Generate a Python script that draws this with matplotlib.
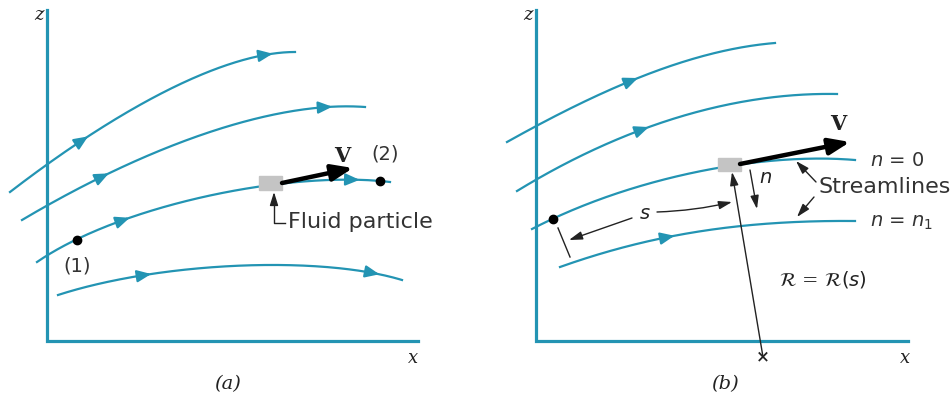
import numpy as np
import matplotlib.pyplot as plt
from matplotlib.patches import Rectangle

# Colours
TEAL = "#2394b3"
GREY = "#c4c4c4"

# Streamlines as cubic Bezier control points (image pixels, y down)
streams_a = [
    [(10, 192), (110, 115), (220, 52), (295, 52)],
    [(22, 220), (140, 150), (270, 100), (365, 107)],
    [(37, 262), (120, 205), (290, 170), (390, 182)],
    [(58, 295), (160, 262), (320, 255), (402, 280)],
]
arrows_a = [[88, 272], [108, 333], [130, 360], [152, 380]]

streams_b = [
    [(507, 142), (600, 90), (690, 50), (775, 43)],
    [(517, 191), (620, 128), (730, 92), (837, 94)],
    [(532, 229), (630, 178), (760, 152), (855, 160)],
    [(560, 267), (650, 235), (740, 220), (855, 221)],
]
arrows_b = [[638], [648], [], [675]]

# Axes corners of each panel: origin, top of z, end of x
panels = [((47, 341), 10, 418), ((536, 341), 10, 908)]

# Particles and points
particles = [(259, 176, 23, 14), (718, 158, 23, 13)]
dots = [(77, 240), (380, 181), (553, 219)]
velocity = [((282, 183), (353, 168)), ((740, 164), (850, 142))]


def bezier(ctrl, n=200):
    p = np.array(ctrl, dtype=float)
    t = np.linspace(0, 1, n)[:, None]
    return ((1 - t) ** 3 * p[0] + 3 * (1 - t) ** 2 * t * p[1]
            + 3 * (1 - t) * t ** 2 * p[2] + t ** 3 * p[3])


fig = plt.figure(figsize=(9.51, 3.94), dpi=100)
ax = fig.add_axes([0, 0, 1, 1])
ax.set_xlim(0, 951)
ax.set_ylim(394, 0)
ax.axis("off")

# z and x axes
for (x0, y0), ztop, xend in panels:
    ax.plot([x0, x0, xend], [ztop, y0, y0], color=TEAL, lw=2.3,
            solid_joinstyle="miter", zorder=2)

# Streamlines with direction arrows
for streams, arrows in [(streams_a, arrows_a), (streams_b, arrows_b)]:
    for ctrl, ax_list in zip(streams, arrows):
        pts = bezier(ctrl)
        ax.plot(pts[:, 0], pts[:, 1], color=TEAL, lw=1.6, zorder=3)
        for xa in ax_list:
            i = np.argmin(np.abs(pts[:, 0] - xa))
            ax.annotate("", xy=pts[i], xytext=pts[i - 3],
                        arrowprops=dict(arrowstyle="-|>,head_length=0.7,head_width=0.3",
                                        color=TEAL, lw=1.6, shrinkA=0, shrinkB=0,
                                        mutation_scale=12), zorder=4)

# Fluid particles
for x, y, w, h in particles:
    ax.add_patch(Rectangle((x, y), w, h, color=GREY, zorder=5))

# Points (1), (2) and start point in (b)
for x, y in dots:
    ax.plot(x, y, "o", color="black", ms=6, zorder=6)

# Velocity vectors
for tail, tip in velocity:
    ax.annotate("", xy=tip, xytext=tail,
                arrowprops=dict(arrowstyle="-|>,head_length=0.9,head_width=0.35",
                                color="black", lw=3.2, shrinkA=0, shrinkB=0,
                                mutation_scale=14), zorder=7)


def thin_arrow(tip, tail, rad=0.0):
    ax.annotate("", xy=tip, xytext=tail,
                arrowprops=dict(arrowstyle="-|>,head_length=0.8,head_width=0.25",
                                color="#222222", lw=1.0, shrinkA=0, shrinkB=0,
                                mutation_scale=10,
                                connectionstyle=f"arc3,rad={rad}"), zorder=7)


serif = dict(family="DejaVu Serif", color="#222222")
sans = dict(family="DejaVu Sans", color="#333333")

# Panel (a) labels
ax.text(39, 15, "z", fontsize=13, style="italic", ha="center", va="center", **serif)
ax.text(413, 358, "x", fontsize=13, style="italic", ha="center", va="center", **serif)
ax.text(228, 384, "(a)", fontsize=14, style="italic", ha="center", va="center", **serif)
ax.text(342, 156, "V", fontsize=15, weight="bold", ha="center", va="center", **serif)
ax.text(385, 154, "(2)", fontsize=14, ha="center", va="center", **sans)
ax.text(77, 266, "(1)", fontsize=14, ha="center", va="center", **sans)
ax.plot([285, 274, 274], [223, 223, 200], color="#222222", lw=1.0, zorder=7)
thin_arrow((274, 192), (274, 202))
ax.text(288, 222, "Fluid particle", fontsize=16, ha="left", va="center", **sans)

# Panel (b) labels
ax.text(528, 15, "z", fontsize=13, style="italic", ha="center", va="center", **serif)
ax.text(905, 358, "x", fontsize=13, style="italic", ha="center", va="center", **serif)
ax.text(725, 384, "(b)", fontsize=14, style="italic", ha="center", va="center", **serif)
ax.text(838, 124, "V", fontsize=15, weight="bold", ha="center", va="center", **serif)
ax.text(870, 160, "$n$ = 0", fontsize=14, ha="left", va="center", **sans)
ax.text(870, 222, "$n$ = $n_1$", fontsize=14, ha="left", va="center", **sans)
ax.text(818, 187, "Streamlines", fontsize=16, ha="left", va="center", **sans)
thin_arrow((796, 161), (816, 182))
thin_arrow((797, 217), (814, 197))

# normal direction n
thin_arrow((757, 209), (750, 170))
ax.text(766, 178, "$n$", fontsize=14, ha="center", va="center", **serif)

# radius of curvature
thin_arrow((732, 172), (763, 357))
ax.text(763, 357, "×", fontsize=12, weight="bold", ha="center", va="center", **serif)
ax.text(823, 280, r"$\mathcal{R}$ = $\mathcal{R}(s)$", fontsize=14,
        ha="center", va="center", **serif)

# arc length s
ax.plot([558, 570], [228, 257], color="#222222", lw=1.0, zorder=7)
thin_arrow((569, 240), (632, 218))
thin_arrow((732, 202), (657, 212), rad=0.05)
ax.text(645, 214, "$s$", fontsize=14, ha="center", va="center", **serif)

fig.savefig("out.png", dpi=100)
